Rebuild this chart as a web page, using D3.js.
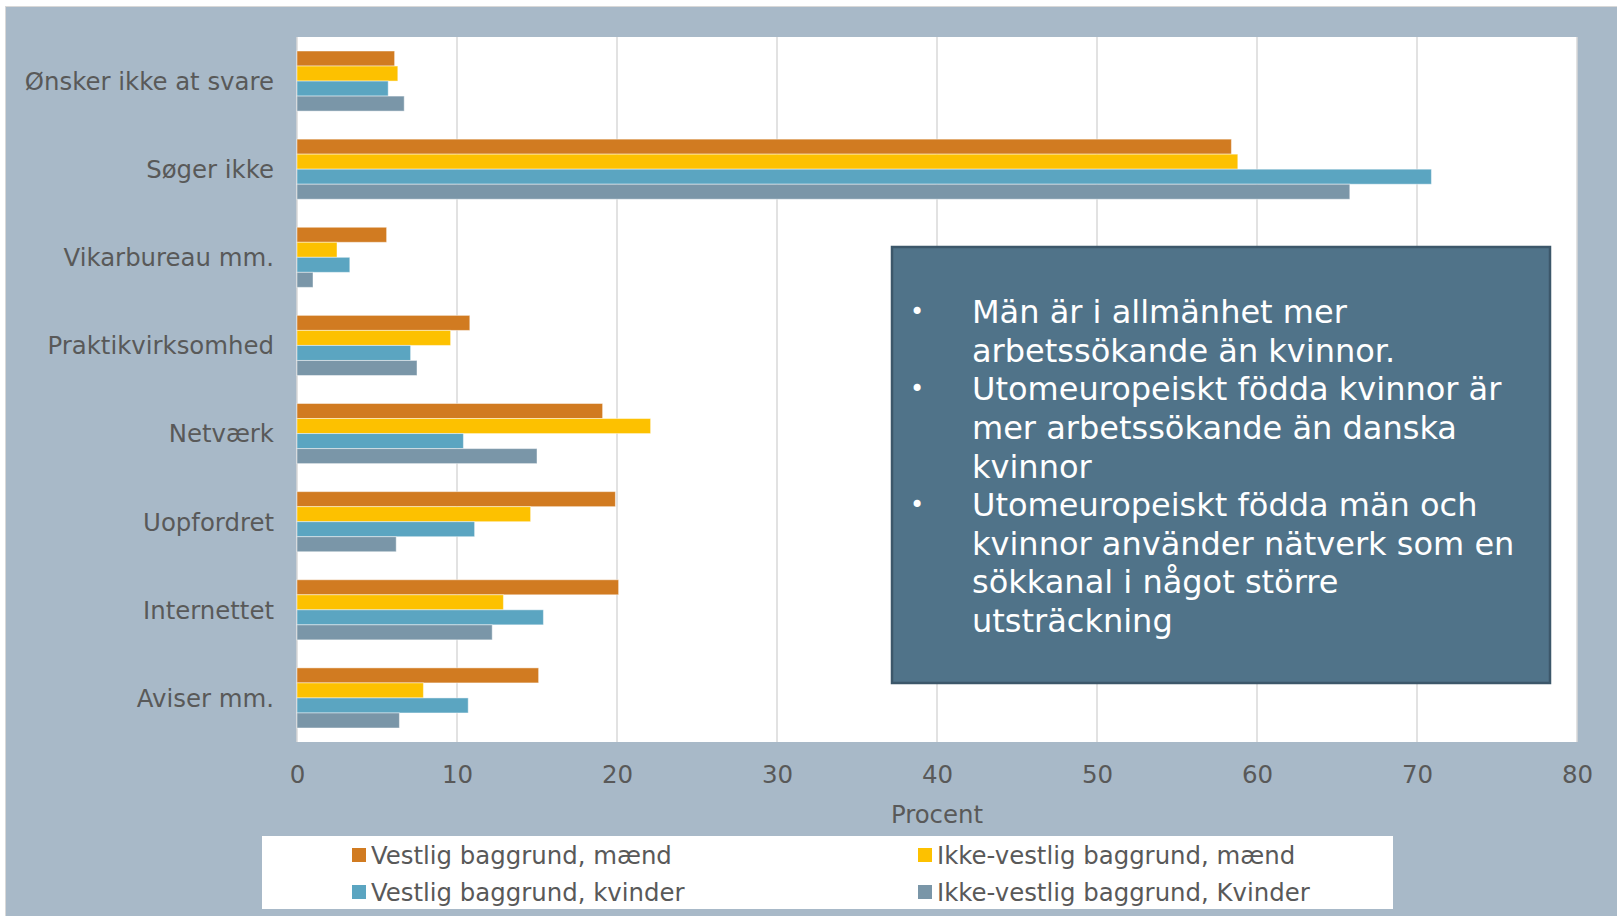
<!DOCTYPE html>
<html>
<head>
<meta charset="utf-8">
<script src="https://cdn.jsdelivr.net/npm/d3@7"></script>
<style>
	html, body { margin: 0; padding: 0; background: #fff; }
	svg { display: block; font-family: Verdana, "DejaVu Sans", sans-serif; }
</style>
</head>
<body>
<svg id="chart" width="1617" height="916"></svg>
<script>
// kategorier (oppefra og ned)
const categories = ["Ønsker ikke at svare", "Søger ikke", "Vikarbureau mm.", "Praktikvirksomhed",
	"Netværk", "Uopfordret", "Internettet", "Aviser mm."];

const seriesNames = ["Vestlig baggrund, mænd", "Ikke-vestlig baggrund, mænd",
	"Vestlig baggrund, kvinder", "Ikke-vestlig baggrund, Kvinder"];
const seriesColors = ["#d17b21", "#fdc100", "#5ba5c1", "#7a96a8"];

// procent, samme rækkefølge som categories
const vestligMaend      = [6.1, 58.4, 5.6, 10.8, 19.1, 19.9, 20.1, 15.1];
const ikkeVestligMaend  = [6.3, 58.8, 2.5,  9.6, 22.1, 14.6, 12.9,  7.9];
const vestligKvinder    = [5.7, 70.9, 3.3,  7.1, 10.4, 11.1, 15.4, 10.7];
const ikkeVestligKvinder= [6.7, 65.8, 1.0,  7.5, 15.0,  6.2, 12.2,  6.4];

const xTicks = [0, 10, 20, 30, 40, 50, 60, 70, 80];
const xTitle = "Procent";

const boxLines = [
	{ bullet: true,  text: "Män är i allmänhet mer" },
	{ bullet: false, text: "arbetssökande än kvinnor." },
	{ bullet: true,  text: "Utomeuropeiskt födda kvinnor är" },
	{ bullet: false, text: "mer arbetssökande än danska" },
	{ bullet: false, text: "kvinnor" },
	{ bullet: true,  text: "Utomeuropeiskt födda män och" },
	{ bullet: false, text: "kvinnor använder nätverk som en" },
	{ bullet: false, text: "sökkanal i något större" },
	{ bullet: false, text: "utsträckning" }
];

const seriesValues = [vestligMaend, ikkeVestligMaend, vestligKvinder, ikkeVestligKvinder];

const svg = d3.select("#chart");
const textColor = "#595959";
const labelSize = "24.4px";

// baggrund
svg.append("rect").attr("x", 5.5).attr("y", 6.5).attr("width", 1620).attr("height", 920)
	.attr("fill", "#a8b9c8").attr("stroke", "#d8d8d8").attr("stroke-width", 1);

const plot = { left: 297, right: 1577, top: 37, bottom: 742 };

svg.append("rect").attr("x", plot.left).attr("y", plot.top)
	.attr("width", plot.right - plot.left).attr("height", plot.bottom - plot.top)
	.attr("fill", "#fff");

const x = d3.scaleLinear().domain([0, 80]).range([plot.left, plot.right]);
const y = d3.scaleBand().domain(categories).range([plot.top, plot.bottom])
	.paddingInner(0.318).paddingOuter(0.159);
const ySub = d3.scaleBand().domain(d3.range(seriesNames.length)).range([0, y.bandwidth()]);

// gitterlinjer
svg.append("g")
	.selectAll("line")
	.data(xTicks)
	.join("line")
	.attr("x1", d => x(d)).attr("x2", d => x(d))
	.attr("y1", plot.top).attr("y2", plot.bottom)
	.attr("stroke", "#d9d9d9").attr("stroke-width", 1.5);

// søjler
const rows = [];
categories.forEach((c, i) => {
	seriesValues.forEach((vals, s) => rows.push({ cat: c, s: s, v: vals[i] }));
});

svg.append("g")
	.selectAll("rect")
	.data(rows)
	.join("rect")
	.attr("x", x(0))
	.attr("y", d => y(d.cat) + ySub(d.s))
	.attr("width", d => x(d.v) - x(0))
	.attr("height", ySub.bandwidth())
	.attr("fill", d => seriesColors[d.s])
	.attr("stroke", "#fff").attr("stroke-opacity", 0.45).attr("stroke-width", 1);

// x-akse
const xAxis = svg.append("g")
	.attr("transform", `translate(0,${plot.bottom})`)
	.call(d3.axisBottom(x).tickValues(xTicks).tickSize(0).tickPadding(24));
xAxis.select(".domain").remove();
xAxis.selectAll("text").attr("fill", textColor).style("font-size", "24.5px")
	.style("font-family", "Verdana, 'DejaVu Sans', sans-serif");

svg.append("text")
	.attr("x", (plot.left + plot.right) / 2).attr("y", 814)
	.attr("text-anchor", "middle").attr("dominant-baseline", "central")
	.attr("fill", textColor).style("font-size", labelSize)
	.text(xTitle);

// y-akse
const yAxis = svg.append("g")
	.attr("transform", `translate(${plot.left},1)`)
	.call(d3.axisLeft(y).tickSize(0).tickPadding(23));
yAxis.select(".domain").remove();
yAxis.selectAll("text").attr("fill", textColor).style("font-size", labelSize)
	.style("font-family", "Verdana, 'DejaVu Sans', sans-serif");

// tekstboks
const box = { x: 892, y: 247, w: 658, h: 436 };
svg.append("rect").attr("x", box.x).attr("y", box.y).attr("width", box.w).attr("height", box.h)
	.attr("fill", "#507389").attr("stroke", "#3c576a").attr("stroke-width", 2.5);

const lineY = d3.scaleLinear().domain([0, boxLines.length - 1]).range([312, 621]);
const tb = svg.append("g").attr("fill", "#fff").style("font-size", "32px");
tb.selectAll("text.line")
	.data(boxLines)
	.join("text")
	.attr("class", "line")
	.attr("x", 972).attr("y", (d, i) => lineY(i))
	.attr("dominant-baseline", "central")
	.text(d => d.text);
tb.selectAll("text.bullet")
	.data(boxLines.filter(d => d.bullet))
	.join("text")
	.attr("class", "bullet")
	.attr("x", 917).attr("y", d => lineY(boxLines.indexOf(d)))
	.attr("text-anchor", "middle")
	.attr("dominant-baseline", "central")
	.style("font-size", "24px")
	.text("•");

// forklaring
svg.append("rect").attr("x", 262).attr("y", 836).attr("width", 1131).attr("height", 73).attr("fill", "#fff");
const legendPos = [[352, 855], [918, 855], [352, 892], [918, 892]];
const lg = svg.append("g")
	.selectAll("g")
	.data(seriesNames)
	.join("g")
	.attr("transform", (d, i) => `translate(${legendPos[i][0]},${legendPos[i][1]})`);
lg.append("rect").attr("x", 0).attr("y", -7).attr("width", 14).attr("height", 14)
	.attr("fill", (d, i) => seriesColors[i]);
lg.append("text").attr("x", 19).attr("y", 0).attr("dominant-baseline", "central")
	.attr("fill", textColor).style("font-size", labelSize)
	.text(d => d);
</script>
</body>
</html>
